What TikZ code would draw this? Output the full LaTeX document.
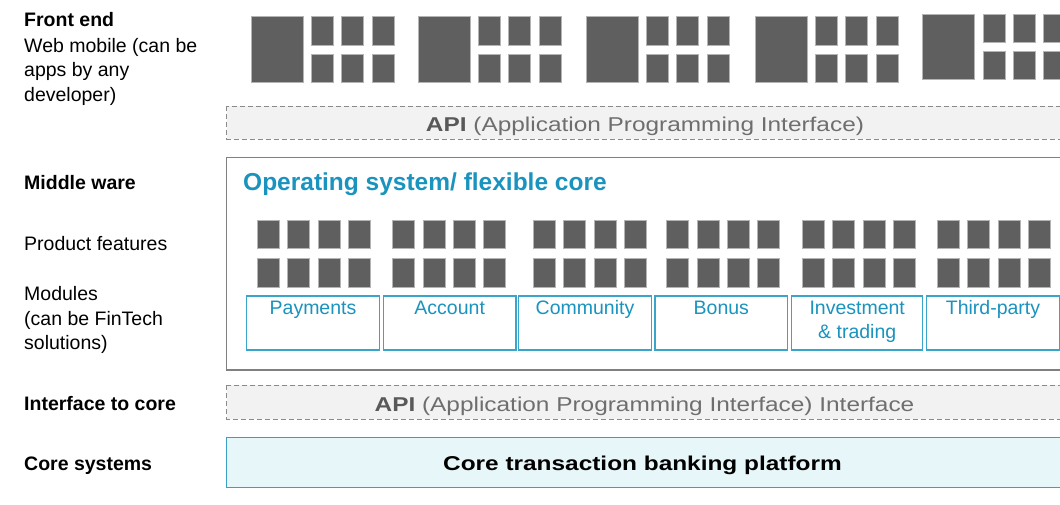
\documentclass[tikz,border=0pt]{standalone}
\usepackage{fontspec}
\usepackage{graphicx}
\setmainfont{Liberation Sans}
\definecolor{tile}{HTML}{5F5F5F}
\definecolor{tileedge}{HTML}{B4B4B4}
\definecolor{apifill}{HTML}{F2F2F2}
\definecolor{apiedge}{HTML}{8A8A8A}
\definecolor{apitext}{HTML}{6E6E6E}
\definecolor{apibold}{HTML}{595959}
\definecolor{frameline}{HTML}{808080}
\definecolor{brandteal}{HTML}{1A93BF}
\definecolor{moduleedge}{HTML}{3AA5CB}
\definecolor{corefill}{HTML}{E7F6F8}
\definecolor{coreedge}{HTML}{3A9FC4}

% one front-end app group: a large tile and a 3x2 grid of small tiles
\newcommand\appgroup[2]{%
  \draw[tilebox] (#1,#2) rectangle ++(52,65.6);
  \foreach \dx in {60.7,90.7,121}{%
    \draw[tilebox] (#1+\dx,#2) rectangle ++(22,28.3);
    \draw[tilebox] (#1+\dx,#2+37.6) rectangle ++(22,28);
  }%
}
% one block of product features: 4x2 small tiles
\newcommand\featgroup[1]{%
  \foreach \dx in {0,30.4,61,91}{%
    \draw[tilebox] (#1+\dx,220) rectangle ++(22,28.3);
    \draw[tilebox] (#1+\dx,258.3) rectangle ++(22,29);
  }%
}

\begin{document}
\begin{tikzpicture}[x=1pt,y=-1pt,
  tilebox/.style={fill=tile,draw=tileedge,line width=0.9pt},
  % multi-line labels are anchored at the baseline of their last line
  sidelabel/.style={anchor=base west,inner sep=0pt,align=left,
    font=\fontsize{19.5}{24.5}\selectfont},
  boldlabel/.style={sidelabel,font=\bfseries\fontsize{19.5}{24.5}\selectfont},
  apibox/.style={fill=apifill,draw=apiedge,dashed,dash pattern=on 5pt off 3pt,line width=0.9pt},
  modbox/.style={draw=moduleedge,line width=1.2pt,fill=white},
  modtext/.style={anchor=base,inner sep=0pt,align=center,text=brandteal,
    font=\fontsize{19.5}{24.5}\selectfont},
  bandtext/.style={anchor=base,inner sep=0pt,font=\fontsize{20}{24}\selectfont}]
\useasboundingbox (0,0) rectangle (1060,504);
\clip (0,0) rectangle (1060,504);

% side labels
\node[boldlabel] (fe) at (24,26) {Front end};
\node[sidelabel] (fedesc) at (24,101) {Web mobile (can be\\apps by any\\developer)};
\node[boldlabel] (mw) at (24,189.3) {Middle ware};
\node[sidelabel] (pf) at (24,250.7) {Product features};
\node[sidelabel] (mods) at (24,349.7) {Modules\\(can be FinTech\\solutions)};
\node[boldlabel] (itc) at (24,410) {Interface to core};
\node[boldlabel] (cs) at (24,470.7) {Core systems};

% front-end apps
\appgroup{251}{16.7}
\appgroup{418}{16.7}
\appgroup{586}{16.7}
\appgroup{755}{16.7}
\appgroup{922.5}{14}

% upper API band
\draw[apibox] (226.7,106) rectangle (1075,139);
\node[bandtext,text=apitext] (apitop) at (645,131)
  {\scalebox{1.22}[1]{\textcolor{apibold}{\bfseries API} (Application Programming Interface)}};

% middleware frame
\draw[draw=frameline,line width=1.3pt,fill=white] (226.7,157.3) rectangle (1075,370);
\node[anchor=base west,inner sep=0pt,text=brandteal,
  font=\bfseries\fontsize{24.5}{28}\selectfont] (os) at (243,190) {Operating system/ flexible core};

% product features
\featgroup{257.3}
\featgroup{392.7}
\featgroup{533.3}
\featgroup{666.7}
\featgroup{802.3}
\featgroup{937.3}

% modules
\draw[modbox] (246.7,296) rectangle ++(132.7,54);
\draw[modbox] (383.3,296) rectangle ++(132.7,54);
\draw[modbox] (518.3,296) rectangle ++(133.4,54);
\draw[modbox] (655,296) rectangle ++(132.7,54);
\draw[modbox] (791.7,296) rectangle ++(131,54);
\draw[modbox] (926.7,296) rectangle ++(132.6,54);
\node[modtext] (pay) at (313,314) {Payments};
\node[modtext] (acc) at (449.7,314) {Account};
\node[modtext] (com) at (585,314) {Community};
\node[modtext] (bon) at (721.3,314) {Bonus};
\node[modtext] (inv) at (857.2,338.5) {Investment\\\& trading};
\node[modtext] (tp) at (993,314) {Third-party};

% lower API band
\draw[apibox] (226.7,385) rectangle (1075,419);
\node[bandtext,text=apitext] (apilow) at (644.5,411)
  {\scalebox{1.22}[1]{\textcolor{apibold}{\bfseries API} (Application Programming Interface) Interface}};

% core platform
\draw[fill=corefill,draw=coreedge,line width=0.9pt] (226.7,437.3) rectangle (1075,487.3);
\node[bandtext,font=\bfseries\fontsize{20}{24}\selectfont] (core) at (642.5,470)
  {\scalebox{1.22}[1]{Core transaction banking platform}};
\end{tikzpicture}
\end{document}
